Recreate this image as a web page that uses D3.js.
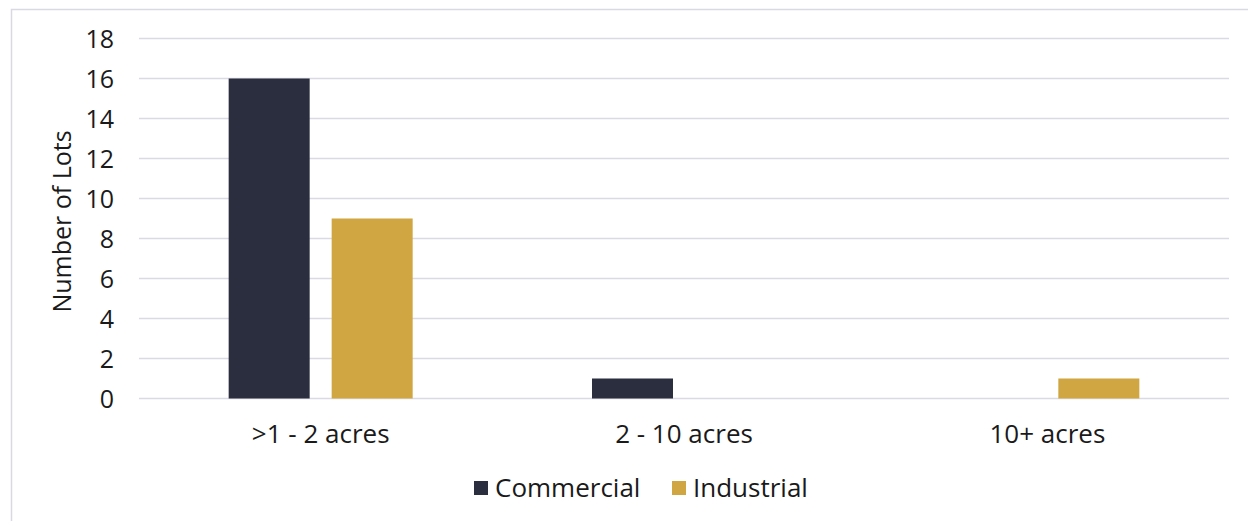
<!DOCTYPE html>
<html><head><meta charset="utf-8">
<script src="https://cdn.jsdelivr.net/npm/d3@7"></script>
<style>
html,body{margin:0;padding:0;background:#fff;}
svg{display:block;font-family:"Open Sans","Noto Sans",sans-serif;}
</style></head>
<body>
<svg id="chart" width="1248" height="521"></svg>
<script>
const categories = [">1 - 2 acres", "2 - 10 acres", "10+ acres"];
const seriesNames = ["Commercial", "Industrial"];
const commercial = [16, 1, 0];
const industrial = [9, 0, 1];
const yTicks = [0, 2, 4, 6, 8, 10, 12, 14, 16, 18];
const colors = ["#2b2e3f", "#cfa641"];
const yTitle = "Number of Lots";

const FONT = "'Open Sans', 'Noto Sans', sans-serif";
const svg = d3.select("#chart");
const W = 1248, H = 521;
// frame
svg.append("rect").attr("x", 11.5).attr("y", 9.5).attr("width", W + 20).attr("height", H + 20)
  .attr("fill", "#fff").attr("stroke", "#d9d9e4").attr("stroke-width", 1.5);

const m = {left: 139, right: 1229, top: 38.5, bottom: 398.5};
const x0 = d3.scaleBand().domain(categories).range([m.left, m.right]).paddingInner(0).paddingOuter(0);
const y = d3.scaleLinear().domain([0, 18]).range([m.bottom, m.top]);
const x1 = d3.scaleBand().domain(seriesNames).range([0, x0.bandwidth()]).paddingInner(0.2136).paddingOuter(0.8705);

// gridlines
svg.append("g").selectAll("line").data(yTicks).join("line")
  .attr("x1", m.left).attr("x2", m.right)
  .attr("y1", d => y(d)).attr("y2", d => y(d))
  .attr("stroke", "#dadae6").attr("stroke-width", 1.5);

// y axis labels
const yAxis = d3.axisLeft(y).tickValues(yTicks).tickSize(0).tickPadding(0);
const gy = svg.append("g").attr("transform", `translate(${m.left - 25},0)`).call(yAxis);
gy.select(".domain").remove();
gy.selectAll("text").attr("font-size", 25).attr("fill", "#1a1a1a").attr("font-family", FONT).attr("dy", "0.35em");

// y title
svg.append("text").attr("transform", `translate(71,${(m.top + m.bottom) / 2 + 3}) rotate(-90)`)
  .attr("text-anchor", "middle").attr("font-size", 25).attr("fill", "#1a1a1a").text(yTitle);

// bars
const data = categories.map((c, i) => ({cat: c, vals: [commercial[i], industrial[i]]}));
const groups = svg.append("g").selectAll("g").data(data).join("g")
  .attr("transform", d => `translate(${x0(d.cat)},0)`);
groups.selectAll("rect").data(d => d.vals.map((v, j) => ({s: seriesNames[j], v, j})))
  .join("rect")
  .attr("x", d => x1(d.s)).attr("width", x1.bandwidth())
  .attr("y", d => y(d.v)).attr("height", d => y(0) - y(d.v))
  .attr("fill", d => colors[d.j]);

// x axis labels
const xAxis = d3.axisBottom(x0).tickSize(0).tickPadding(0);
const gx = svg.append("g").attr("transform", `translate(0,${m.bottom + 35})`).call(xAxis);
gx.select(".domain").remove();
gx.selectAll("text").attr("font-size", 26).attr("fill", "#1a1a1a").attr("font-family", FONT).attr("dy", "0.35em");

// legend
const legendItems = [{name: seriesNames[0], x: 474}, {name: seriesNames[1], x: 672}];
const lg = svg.append("g").selectAll("g").data(legendItems).join("g")
  .attr("transform", d => `translate(${d.x},481)`);
lg.append("rect").attr("width", 14).attr("height", 14).attr("fill", (d, i) => colors[i]);
lg.append("text").attr("x", 21).attr("y", 7).attr("dy", "0.35em").attr("font-size", 26)
  .attr("fill", "#1a1a1a").text(d => d.name);
</script>
</body></html>
